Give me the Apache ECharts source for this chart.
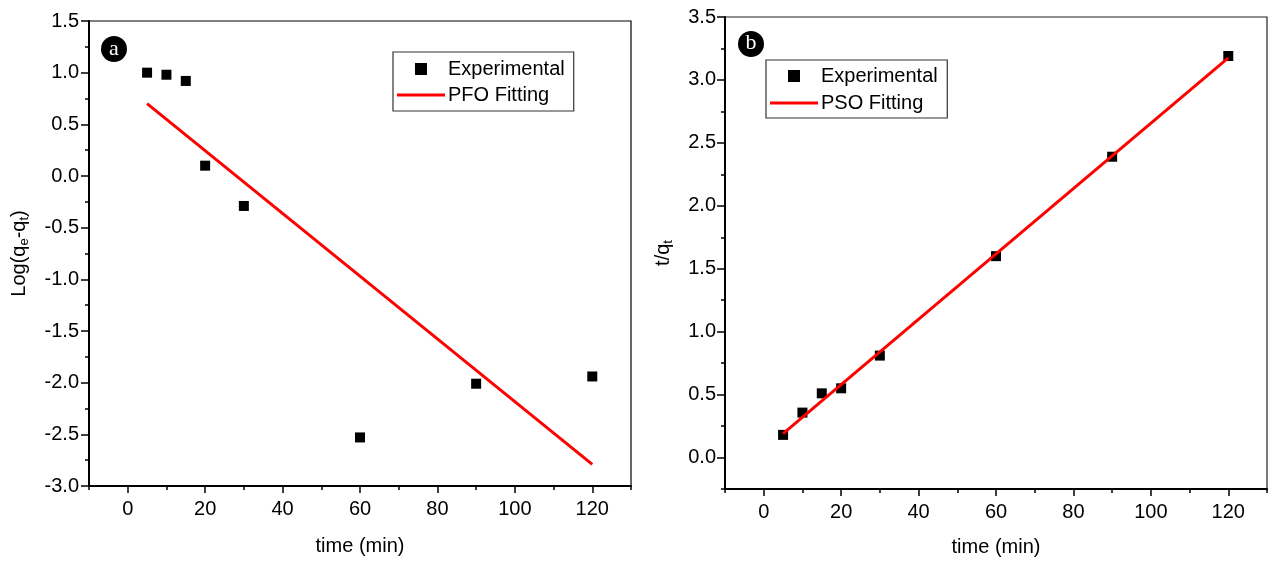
<!DOCTYPE html>
<html>
<head>
<meta charset="utf-8">
<script src="https://cdn.jsdelivr.net/npm/echarts@6/dist/echarts.min.js"></script>
<style>
html,body{margin:0;padding:0;background:#fff;}
#chart{width:1270px;height:562px;}
</style>
</head>
<body>
<div id="chart"></div>
<script>
// ---- data ----
const timeMin = [5, 10, 15, 20, 30, 60, 90, 120];
const logQeQt = [1.0, 0.98, 0.92, 0.10, -0.29, -2.53, -2.01, -1.94];
const pfoFitTime = [5, 120];
const pfoFitVal = [0.70, -2.79];
const tOverQt = [0.18, 0.357, 0.51, 0.55, 0.81, 1.60, 2.39, 3.19];
const psoFitTime = [5, 120];
const psoFitVal = [0.19, 3.175];
const majorTicksX = [0, 20, 40, 60, 80, 100, 120];
const majorTicksB = [0, 0.5, 1.0, 1.5, 2.0, 2.5, 3.0, 3.5];

const FONT = 'Liberation Sans';
const zip = (a, b) => a.map((v, i) => [v, b[i]]);
const isMult = (v, step) => Math.abs(v / step - Math.round(v / step)) < 1e-6;

const chart = echarts.init(document.getElementById('chart'));

const xAxisMain = (gridIndex, nameGap) => ({
  type: 'value', gridIndex, min: -10, max: 130, interval: 10,
  name: 'time (min)', nameLocation: 'middle', nameGap,
  nameTextStyle: { fontFamily: FONT, fontSize: 20, color: '#000' },
  axisLine: { show: true, onZero: false, lineStyle: { color: '#000', width: 2 } },
  axisTick: { show: true, inside: false, length: 4, lineStyle: { color: '#000', width: 1.5 } },
  axisLabel: { fontFamily: FONT, fontSize: 20, color: '#000', margin: 13,
    formatter: v => (isMult(v, 20) ? String(v) : '') },
  splitLine: { show: false }
});
const xAxisMajor = (gridIndex) => ({
  type: 'value', gridIndex, min: -10, max: 130, position: 'bottom',
  axisLine: { show: false, onZero: false },
  axisTick: { show: true, inside: false, length: 7, customValues: majorTicksX, lineStyle: { color: '#000', width: 1.5 } },
  axisLabel: { show: false },
  splitLine: { show: false }
});

const subRich = {
  n: { fontFamily: FONT, fontSize: 20, color: '#000', lineHeight: 24 },
  s: { fontFamily: FONT, fontSize: 13, color: '#000', verticalAlign: 'bottom', lineHeight: 14, padding: [12, 0, 0, 0] }
};

const LINE_ICON = 'path://M0,0h48v3h-48z';
const SQUARE_ICON = 'path://M0,0h10v10h-10z';

const option = {
  backgroundColor: '#fff',
  animation: false,
  grid: [
    { left: 89, top: 21, width: 542, height: 465, show: true, borderColor: '#000', borderWidth: 1.2, containLabel: false },
    { left: 725, top: 17, width: 544, height: 473, show: true, borderColor: '#222', borderWidth: 1.2, containLabel: false }
  ],
  xAxis: [
    xAxisMain(0, 50),
    xAxisMain(1, 48),
    xAxisMajor(0),
    xAxisMajor(1)
  ],
  yAxis: [
    {
      type: 'value', gridIndex: 0, min: -3.0, max: 1.5, interval: 0.5,
      name: '{n|Log(q}{s|e}{n|-q}{s|t}{n|)}', nameLocation: 'middle', nameGap: 58, nameRotate: 90,
      nameTextStyle: { rich: subRich },
      axisLine: { show: true, onZero: false, lineStyle: { color: '#000', width: 2 } },
      axisTick: { show: true, inside: false, length: 8, lineStyle: { color: '#000', width: 1.5 } },
      minorTick: { show: true, splitNumber: 2, length: 4, lineStyle: { color: '#000', width: 1.5 } },
      axisLabel: { fontFamily: FONT, fontSize: 20, color: '#000', margin: 10, formatter: v => v.toFixed(1) },
      splitLine: { show: false }
    },
    {
      type: 'value', gridIndex: 1, min: -0.25, max: 3.5, interval: 0.25,
      name: '{n|t/q}{s|t}', nameLocation: 'middle', nameGap: 50, nameRotate: 90,
      nameTextStyle: { rich: subRich },
      axisLine: { show: true, onZero: false, lineStyle: { color: '#000', width: 2 } },
      axisTick: { show: true, inside: false, length: 4, lineStyle: { color: '#000', width: 1.5 } },
      axisLabel: {
        fontFamily: FONT, fontSize: 20, color: '#000', margin: 9,
        formatter: v => (isMult(v, 0.5) ? v.toFixed(1) : '')
      },
      splitLine: { show: false }
    },
    {
      type: 'value', gridIndex: 1, min: -0.25, max: 3.5, position: 'left',
      axisLine: { show: false, onZero: false },
      axisTick: { show: true, inside: false, length: 8, customValues: majorTicksB, lineStyle: { color: '#000', width: 1.5 } },
      axisLabel: { show: false },
      splitLine: { show: false }
    }
  ],
  legend: [
    {
      left: 393, top: 52, orient: 'vertical',
      backgroundColor: '#fff', borderColor: '#333', borderWidth: 1.2,
      padding: [7, 9, 6, 4], itemGap: 6, itemWidth: 48, itemHeight: 12,
      textStyle: { fontFamily: FONT, fontSize: 20, color: '#000', padding: [0, 0, 0, -2] },
      data: [
        { name: 'Experimental', icon: SQUARE_ICON },
        { name: 'PFO Fitting', icon: LINE_ICON }
      ]
    },
    {
      left: 766, top: 60, orient: 'vertical',
      backgroundColor: '#fff', borderColor: '#333', borderWidth: 1.2,
      padding: [6, 4, 5, 4], itemGap: 7, itemWidth: 48, itemHeight: 12,
      textStyle: { fontFamily: FONT, fontSize: 20, color: '#000', padding: [0, 0, 0, -2] },
      data: [
        { name: 'Experimental ', icon: SQUARE_ICON },
        { name: 'PSO Fitting', icon: LINE_ICON }
      ]
    }
  ],
  graphic: [
    { type: 'circle', shape: { cx: 114, cy: 49, r: 13 }, style: { fill: '#000' } },
    { type: 'text', x: 114, y: 49, style: { text: 'a', fill: '#fff', font: '22px "Liberation Serif"', align: 'center', verticalAlign: 'middle' } },
    { type: 'circle', shape: { cx: 751, cy: 44, r: 13 }, style: { fill: '#000' } },
    { type: 'text', x: 751, y: 43, style: { text: 'b', fill: '#fff', font: '22px "Liberation Serif"', align: 'center', verticalAlign: 'middle' } }
  ],
  series: [
    {
      name: 'PFO Fitting', type: 'line', xAxisIndex: 0, yAxisIndex: 0,
      data: zip(pfoFitTime, pfoFitVal), symbol: 'none',
      lineStyle: { color: '#ff0000', width: 3 }, itemStyle: { color: '#ff0000' }, z: 2
    },
    {
      name: 'Experimental', type: 'scatter', xAxisIndex: 0, yAxisIndex: 0,
      data: zip(timeMin, logQeQt), symbol: 'rect', symbolSize: 10,
      itemStyle: { color: '#000', opacity: 1 }, z: 3
    },
    {
      name: 'Experimental ', type: 'scatter', xAxisIndex: 1, yAxisIndex: 1,
      data: zip(timeMin, tOverQt), symbol: 'rect', symbolSize: 10,
      itemStyle: { color: '#000', opacity: 1 }, z: 2
    },
    {
      name: 'PSO Fitting', type: 'line', xAxisIndex: 1, yAxisIndex: 1,
      data: zip(psoFitTime, psoFitVal), symbol: 'none',
      lineStyle: { color: '#ff0000', width: 3 }, itemStyle: { color: '#ff0000' }, z: 3
    }
  ]
};
chart.setOption(option);
</script>
</body>
</html>
